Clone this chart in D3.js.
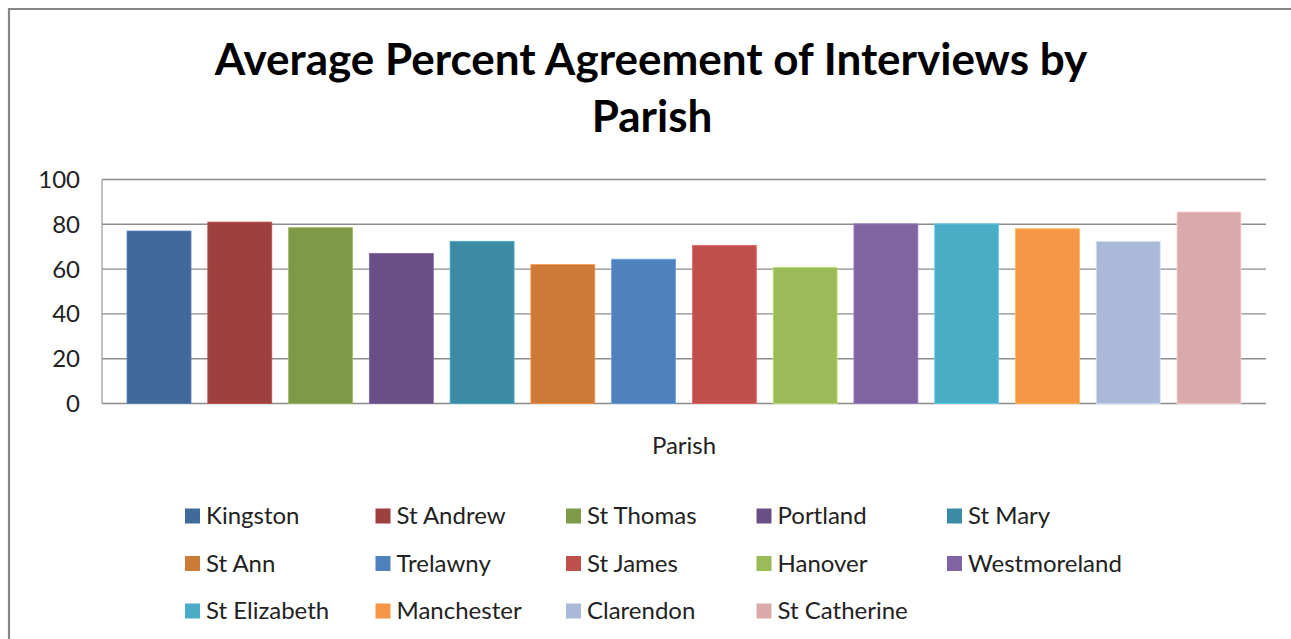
<!DOCTYPE html>
<html>
<head>
<meta charset="utf-8">
<script src="https://cdn.jsdelivr.net/npm/d3@7"></script>
<style>
  body { margin: 0; background: #fff; }
  svg { display: block; }
</style>
</head>
<body>
<div id="output"></div>
<script>
const parishes = ["Kingston", "St Andrew", "St Thomas", "Portland", "St Mary", "St Ann", "Trelawny",
    "St James", "Hanover", "Westmoreland", "St Elizabeth", "Manchester", "Clarendon", "St Catherine"];
const agreement = [77, 81, 78.5, 67, 72.4, 62, 64.4, 70.6, 60.8, 80.2, 80.2, 78, 72.4, 85.5];
const barColors = ["#41699a", "#9e403e", "#7e9a48", "#694f86", "#3a8ba3", "#cb7a38", "#4f81bd",
    "#c0504d", "#9bbb59", "#8064a2", "#4bacc6", "#f79646", "#aab9d7", "#d9aaa9"];
const yTicks = [0, 20, 40, 60, 80, 100];

const font = "Lato, 'Open Sans', sans-serif";
const W = 1291, H = 639;

function draw() {
    document.getElementById('output').innerHTML = '';
    const svg = d3.select("#output").append("svg").attr("width", W).attr("height", H);

    // chart frame (only the top and left edges fall inside the picture)
    svg.append("path")
        .attr("d", "M9," + (H + 5) + " V9 H" + (W + 5))
        .style("fill", "none")
        .style("stroke", "#868686")
        .style("stroke-width", 2.2);

    // title
    const title = svg.append("text")
        .style("font-family", font)
        .style("font-weight", "bold")
        .style("font-size", "44px")
        .style("fill", "#000")
        .style("text-anchor", "middle");
    title.append("tspan").attr("x", 651).attr("y", 75).text("Average Percent Agreement of Interviews by");
    title.append("tspan").attr("x", 652).attr("y", 132).text("Parish");

    const left = 102, right = 1266, top = 179.5, bottom = 403.5;

    const y = d3.scaleLinear().domain([0, 100]).range([bottom, top]);
    const x = d3.scaleBand().domain(parishes).range([left, right])
        .paddingInner(0.208).paddingOuter(0.31);

    // gridlines
    svg.append("g")
        .selectAll("line")
        .data(yTicks)
        .join("line")
        .attr("x1", left)
        .attr("x2", right)
        .attr("y1", d => y(d))
        .attr("y2", d => y(d))
        .style("stroke", "#8c8c8c")
        .style("stroke-width", 1.4);

    // y axis line
    svg.append("line")
        .attr("x1", left).attr("x2", left)
        .attr("y1", top).attr("y2", bottom)
        .style("stroke", "#9a9a9a")
        .style("stroke-width", 1.2);

    // y axis labels
    svg.append("g")
        .selectAll("text")
        .data(yTicks)
        .join("text")
        .attr("x", 80)
        .attr("y", d => y(d))
        .attr("dy", "0.35em")
        .style("font-family", font)
        .style("font-size", "24px")
        .style("fill", "#222")
        .style("text-anchor", "end")
        .text(d => d);

    // bars
    svg.append("g")
        .selectAll("rect")
        .data(parishes)
        .join("rect")
        .attr("x", d => x(d))
        .attr("y", (d, i) => y(agreement[i]))
        .attr("width", x.bandwidth())
        .attr("height", (d, i) => y(0) - y(agreement[i]))
        .style("fill", (d, i) => barColors[i])
        .style("stroke", (d, i) => d3.rgb(barColors[i]).brighter(0.6))
        .style("stroke-width", 0.8);

    // x axis title
    svg.append("text")
        .attr("x", 684)
        .attr("y", 454)
        .style("font-family", font)
        .style("font-size", "24px")
        .style("fill", "#222")
        .style("text-anchor", "middle")
        .text("Parish");

    // legend
    const cols = 5, colW = 190.5, rowH = 47.5, lx = 185, ly = 516, sw = 15;
    const legend = svg.append("g")
        .selectAll("g")
        .data(parishes)
        .join("g")
        .attr("transform", (d, i) => "translate(" + (lx + (i % cols) * colW) + "," + (ly + Math.floor(i / cols) * rowH) + ")");
    legend.append("rect")
        .attr("x", 0)
        .attr("y", -sw / 2)
        .attr("width", sw)
        .attr("height", sw)
        .style("fill", (d, i) => barColors[i]);
    legend.append("text")
        .attr("x", 21)
        .attr("y", 0)
        .attr("dy", "0.35em")
        .style("font-family", font)
        .style("font-size", "24px")
        .style("fill", "#222")
        .text(d => d);
}

draw();
</script>
</body>
</html>
